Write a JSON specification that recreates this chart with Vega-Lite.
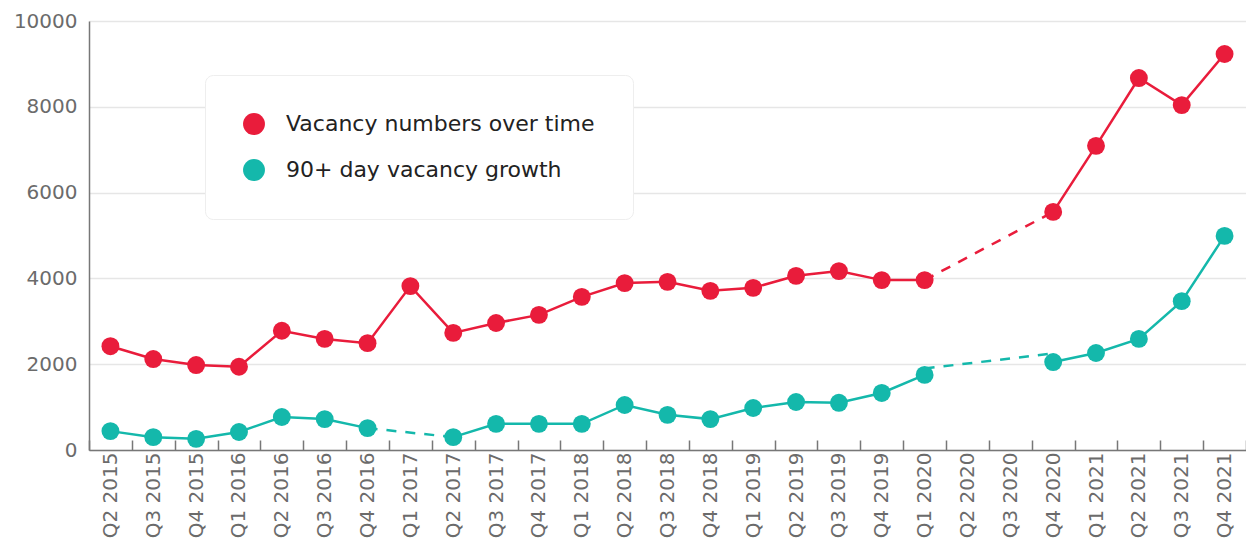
{
  "$schema": "https://vega.github.io/schema/vega-lite/v6.json",
  "width": 1157,
  "height": 429,
  "autosize": {"type": "none"},
  "padding": {"left": 89, "top": 21, "right": 0, "bottom": 100},
  "config": {
    "view": {"stroke": null},
    "font": "DejaVu Sans",
    "axis": {"labelFont": "DejaVu Sans", "labelColor": "#6b6b6b"}
  },
  "resolve": {"legend": {"color": "independent"}},
  "datasets": {
    "main": [
      {"quarter": "Q2 2015", "series": "Vacancy numbers over time", "seg": "r1", "value": 2420},
      {"quarter": "Q3 2015", "series": "Vacancy numbers over time", "seg": "r1", "value": 2120},
      {"quarter": "Q4 2015", "series": "Vacancy numbers over time", "seg": "r1", "value": 1980},
      {"quarter": "Q1 2016", "series": "Vacancy numbers over time", "seg": "r1", "value": 1940},
      {"quarter": "Q2 2016", "series": "Vacancy numbers over time", "seg": "r1", "value": 2780},
      {"quarter": "Q3 2016", "series": "Vacancy numbers over time", "seg": "r1", "value": 2590},
      {"quarter": "Q4 2016", "series": "Vacancy numbers over time", "seg": "r1", "value": 2490},
      {"quarter": "Q1 2017", "series": "Vacancy numbers over time", "seg": "r1", "value": 3820},
      {"quarter": "Q2 2017", "series": "Vacancy numbers over time", "seg": "r1", "value": 2730},
      {"quarter": "Q3 2017", "series": "Vacancy numbers over time", "seg": "r1", "value": 2960},
      {"quarter": "Q4 2017", "series": "Vacancy numbers over time", "seg": "r1", "value": 3150},
      {"quarter": "Q1 2018", "series": "Vacancy numbers over time", "seg": "r1", "value": 3570},
      {"quarter": "Q2 2018", "series": "Vacancy numbers over time", "seg": "r1", "value": 3890},
      {"quarter": "Q3 2018", "series": "Vacancy numbers over time", "seg": "r1", "value": 3920},
      {"quarter": "Q4 2018", "series": "Vacancy numbers over time", "seg": "r1", "value": 3710},
      {"quarter": "Q1 2019", "series": "Vacancy numbers over time", "seg": "r1", "value": 3780},
      {"quarter": "Q2 2019", "series": "Vacancy numbers over time", "seg": "r1", "value": 4060},
      {"quarter": "Q3 2019", "series": "Vacancy numbers over time", "seg": "r1", "value": 4170},
      {"quarter": "Q4 2019", "series": "Vacancy numbers over time", "seg": "r1", "value": 3960},
      {"quarter": "Q1 2020", "series": "Vacancy numbers over time", "seg": "r1", "value": 3960},
      {"quarter": "Q4 2020", "series": "Vacancy numbers over time", "seg": "r2", "value": 5550},
      {"quarter": "Q1 2021", "series": "Vacancy numbers over time", "seg": "r2", "value": 7090},
      {"quarter": "Q2 2021", "series": "Vacancy numbers over time", "seg": "r2", "value": 8670},
      {"quarter": "Q3 2021", "series": "Vacancy numbers over time", "seg": "r2", "value": 8040},
      {"quarter": "Q4 2021", "series": "Vacancy numbers over time", "seg": "r2", "value": 9230},
      {"quarter": "Q2 2015", "series": "90+ day vacancy growth", "seg": "t1", "value": 440},
      {"quarter": "Q3 2015", "series": "90+ day vacancy growth", "seg": "t1", "value": 300},
      {"quarter": "Q4 2015", "series": "90+ day vacancy growth", "seg": "t1", "value": 260},
      {"quarter": "Q1 2016", "series": "90+ day vacancy growth", "seg": "t1", "value": 420},
      {"quarter": "Q2 2016", "series": "90+ day vacancy growth", "seg": "t1", "value": 770},
      {"quarter": "Q3 2016", "series": "90+ day vacancy growth", "seg": "t1", "value": 720},
      {"quarter": "Q4 2016", "series": "90+ day vacancy growth", "seg": "t1", "value": 510},
      {"quarter": "Q2 2017", "series": "90+ day vacancy growth", "seg": "t2", "value": 300},
      {"quarter": "Q3 2017", "series": "90+ day vacancy growth", "seg": "t2", "value": 610},
      {"quarter": "Q4 2017", "series": "90+ day vacancy growth", "seg": "t2", "value": 610},
      {"quarter": "Q1 2018", "series": "90+ day vacancy growth", "seg": "t2", "value": 610},
      {"quarter": "Q2 2018", "series": "90+ day vacancy growth", "seg": "t2", "value": 1050},
      {"quarter": "Q3 2018", "series": "90+ day vacancy growth", "seg": "t2", "value": 820},
      {"quarter": "Q4 2018", "series": "90+ day vacancy growth", "seg": "t2", "value": 720},
      {"quarter": "Q1 2019", "series": "90+ day vacancy growth", "seg": "t2", "value": 980},
      {"quarter": "Q2 2019", "series": "90+ day vacancy growth", "seg": "t2", "value": 1120},
      {"quarter": "Q3 2019", "series": "90+ day vacancy growth", "seg": "t2", "value": 1100},
      {"quarter": "Q4 2019", "series": "90+ day vacancy growth", "seg": "t2", "value": 1330},
      {"quarter": "Q1 2020", "series": "90+ day vacancy growth", "seg": "t2", "value": 1750},
      {"quarter": "Q4 2020", "series": "90+ day vacancy growth", "seg": "t3", "value": 2050},
      {"quarter": "Q1 2021", "series": "90+ day vacancy growth", "seg": "t3", "value": 2260},
      {"quarter": "Q2 2021", "series": "90+ day vacancy growth", "seg": "t3", "value": 2590},
      {"quarter": "Q3 2021", "series": "90+ day vacancy growth", "seg": "t3", "value": 3470},
      {"quarter": "Q4 2021", "series": "90+ day vacancy growth", "seg": "t3", "value": 4990}
    ],
    "dashed": [
      {"quarter": "Q1 2020", "series": "Vacancy numbers over time", "seg": "d1", "value": 3960},
      {"quarter": "Q4 2020", "series": "Vacancy numbers over time", "seg": "d1", "value": 5550},
      {"quarter": "Q4 2016", "series": "90+ day vacancy growth", "seg": "d2", "value": 510},
      {"quarter": "Q2 2017", "series": "90+ day vacancy growth", "seg": "d2", "value": 300},
      {"quarter": "Q1 2020", "series": "90+ day vacancy growth", "seg": "d3", "value": 1900},
      {"quarter": "Q4 2020", "series": "90+ day vacancy growth", "seg": "d3", "value": 2250}
    ]
  },
  "encoding": {
    "x": {
      "field": "quarter",
      "type": "nominal",
      "sort": null,
      "scale": {
        "type": "band",
        "paddingInner": 0,
        "paddingOuter": 0,
        "domain": ["Q2 2015","Q3 2015","Q4 2015","Q1 2016","Q2 2016","Q3 2016","Q4 2016","Q1 2017","Q2 2017","Q3 2017","Q4 2017","Q1 2018","Q2 2018","Q3 2018","Q4 2018","Q1 2019","Q2 2019","Q3 2019","Q4 2019","Q1 2020","Q2 2020","Q3 2020","Q4 2020","Q1 2021","Q2 2021","Q3 2021","Q4 2021"]
      },
      "axis": {
        "title": null,
        "labelAngle": -90,
        "labelFontSize": 20,
        "labelPadding": 12,
        "tickBand": "extent",
        "tickSize": -10,
        "tickColor": "#777777",
        "tickWidth": 1.5,
        "domainColor": "#777777",
        "domainWidth": 1.5,
        "grid": false
      }
    },
    "y": {
      "field": "value",
      "type": "quantitative",
      "scale": {"domain": [0, 10000], "nice": false},
      "axis": {
        "title": null,
        "format": "d",
        "values": [0, 2000, 4000, 6000, 8000, 10000],
        "labelFontSize": 20,
        "labelPadding": 12,
        "ticks": false,
        "domainColor": "#777777",
        "domainWidth": 1.5,
        "gridColor": "#e6e6e6",
        "gridWidth": 1.5
      }
    },
    "color": {
      "field": "series",
      "type": "nominal",
      "scale": {
        "domain": ["Vacancy numbers over time", "90+ day vacancy growth"],
        "range": ["#E91C3B", "#14B8AB"]
      }
    }
  },
  "layer": [
    {
      "data": {"name": "dashed"},
      "mark": {"type": "line", "strokeWidth": 2.5, "strokeDash": [10, 9]},
      "encoding": {
        "detail": {"field": "seg"},
        "color": {"field": "series", "type": "nominal", "legend": null}
      }
    },
    {
      "data": {"name": "main"},
      "mark": {"type": "line", "strokeWidth": 2.5},
      "encoding": {
        "detail": {"field": "seg"},
        "color": {"field": "series", "type": "nominal", "legend": null}
      }
    },
    {
      "data": {"name": "main"},
      "mark": {"type": "circle", "size": 320, "opacity": 1},
      "encoding": {
        "color": {
          "field": "series",
          "type": "nominal",
          "legend": {
            "title": null,
            "orient": "none",
            "legendX": 116,
            "legendY": 54,
            "direction": "vertical",
            "fillColor": "#ffffff",
            "strokeColor": "#eeeeee",
            "cornerRadius": 8,
            "padding": 38,
            "symbolType": "circle",
            "symbolSize": 480,
            "symbolOpacity": 1,
            "symbolStrokeWidth": 0,
            "labelFontSize": 22,
            "labelColor": "#222222",
            "labelFont": "DejaVu Sans",
            "labelOffset": 21,
            "rowPadding": 24,
            "labelLimit": 400
          }
        }
      }
    }
  ]
}
